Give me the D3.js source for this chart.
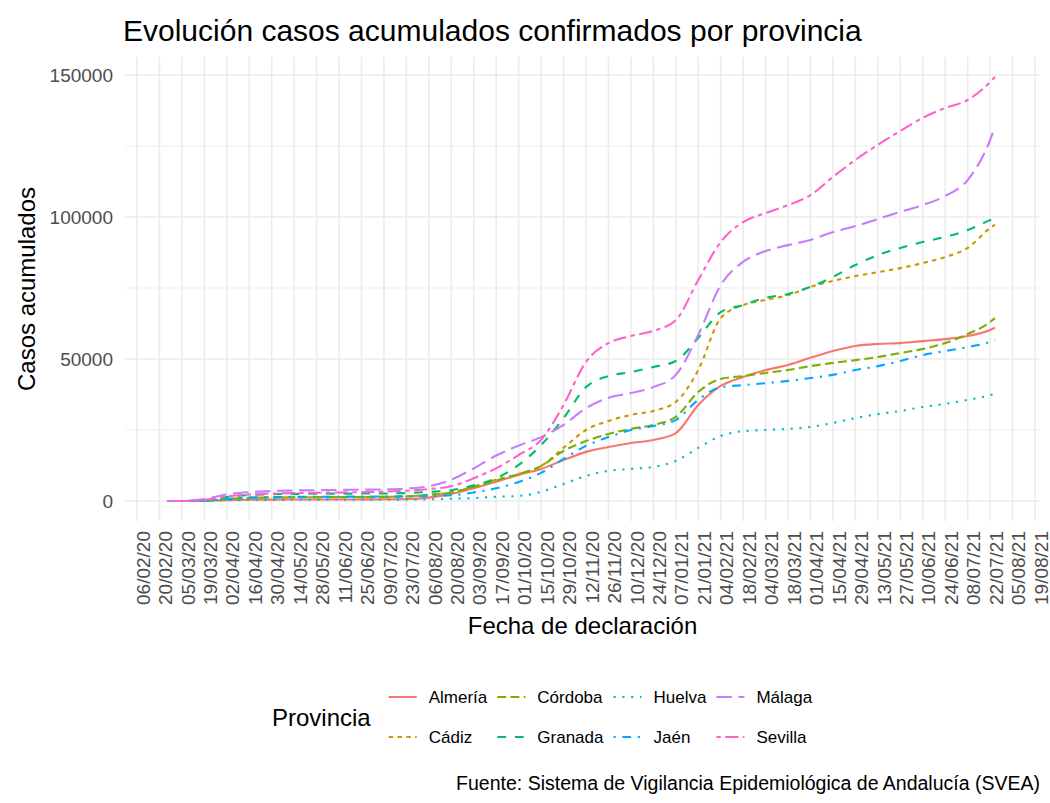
<!DOCTYPE html>
<html>
<head>
<meta charset="utf-8">
<script src="https://cdn.jsdelivr.net/npm/d3@7"></script>
<style>
  body { margin: 0; background: #fff; }
  text { font-family: "Liberation Sans", Arial, sans-serif; }
</style>
</head>
<body>
<div id="chart"></div>
<script>
//---------------------Data

const fechas = ["2020-02-25","2020-03-05","2020-03-19","2020-04-02","2020-04-16","2020-04-30",
  "2020-05-14","2020-05-28","2020-06-11","2020-06-25","2020-07-09","2020-07-23","2020-08-06",
  "2020-08-20","2020-09-03","2020-09-17","2020-10-01","2020-10-15","2020-10-29","2020-11-12",
  "2020-11-26","2020-12-10","2020-12-24","2021-01-07","2021-01-21","2021-02-04","2021-02-18",
  "2021-03-04","2021-03-18","2021-04-01","2021-04-15","2021-04-29","2021-05-13","2021-05-27",
  "2021-06-10","2021-06-24","2021-07-08","2021-07-22","2021-07-25"]

const almeria = [0,0,100,300,450,500,520,530,540,560,600,700,1200,2500,4500,6800,9200,11300,14400,17300,
  19000,20400,21500,23900,33800,40500,43700,46100,47900,50400,52800,54600,55300,55600,56300,57000,58100,60200,61000]
const cadiz = [0,0,150,700,1100,1250,1300,1350,1400,1420,1450,1600,2200,3000,5000,7500,9500,12300,18700,25000,
  28200,30300,31700,34900,46100,64400,69000,70800,72500,75400,77500,79200,80600,82000,83800,85900,89100,96100,97300]
const cordoba = [0,0,100,700,1100,1250,1300,1350,1380,1400,1450,1600,2100,3000,5000,7200,9500,12300,17600,21100,
  23600,25400,26800,29600,38400,43000,44000,45100,46100,47500,48600,49600,50700,52100,53500,55600,58800,63000,64400]
const granada = [0,0,300,1400,2100,2400,2500,2550,2600,2620,2650,2800,3200,3800,5500,8000,12700,19700,29200,40100,
  44000,45400,47200,49300,57400,66500,69000,71500,72900,75400,78900,83100,86600,89100,91200,93000,95400,98900,99600]
const huelva = [0,0,50,250,350,400,420,430,440,450,460,500,600,800,1000,1500,1800,3200,6000,8800,
  10600,11300,12000,14100,18700,22900,24600,25000,25400,26100,27500,29200,30600,31700,33100,34200,35600,37300,37900]
const jaen = [0,0,100,700,1200,1400,1450,1500,1520,1550,1580,1650,1800,2000,3000,4500,6700,9900,14800,19400,
  22500,25000,26400,28500,35600,40100,40800,41500,42300,43300,44400,46100,47500,49300,51400,52800,54200,56000,56600]
const malaga = [0,20,700,2300,3100,3500,3700,3800,3900,4000,4100,4400,5200,7500,11500,16000,19500,22500,26800,32700,
  36300,38000,40100,44400,58500,76000,84200,88000,90100,91900,94700,96800,99300,101800,104200,107400,113000,127100,131700]
const sevilla = [0,10,400,1600,2300,2600,2800,2900,3000,3100,3300,3600,4200,5200,8000,11500,16200,21500,33800,49000,
  55600,58100,59900,63700,77800,91200,98200,101400,104200,107700,114100,120100,125400,130300,134900,138400,141200,147500,149300]

const provincias = ["Almería","Cádiz","Córdoba","Granada","Huelva","Jaén","Málaga","Sevilla"]
const serieValores = [almeria, cadiz, cordoba, granada, huelva, jaen, malaga, sevilla]

const xTickLabels = ["06/02/20","20/02/20","05/03/20","19/03/20","02/04/20","16/04/20","30/04/20",
  "14/05/20","28/05/20","11/06/20","25/06/20","09/07/20","23/07/20","06/08/20","20/08/20","03/09/20",
  "17/09/20","01/10/20","15/10/20","29/10/20","12/11/20","26/11/20","10/12/20","24/12/20","07/01/21",
  "21/01/21","04/02/21","18/02/21","04/03/21","18/03/21","01/04/21","15/04/21","29/04/21","13/05/21",
  "27/05/21","10/06/21","24/06/21","08/07/21","22/07/21","05/08/21","19/08/21"]
const yTicks = [0, 50000, 100000, 150000]
const yMinorTicks = [25000, 75000, 125000]

//----------------------Prepare

const parseDate = d3.utcParse("%Y-%m-%d")
const parseTick = d3.utcParse("%d/%m/%y")

const dataset = provincias.map((p, i) => ({
  provincia: p,
  values: fechas.map((f, j) => ({ fecha: parseDate(f), casos: serieValores[i][j] }))
}))

const xAccessor = d => d.fecha
const yAccessor = d => d.casos

//-----------------------Dimensions

let dimensions = {
  width: 1050,
  height: 803,
  panelLeft: 125,
  panelRight: 1040,
  panelTop: 57,
  panelBottom: 521
}

const svg = d3.select("#chart")
  .append("svg")
  .attr("width", dimensions.width)
  .attr("height", dimensions.height)

svg.append("rect")
  .attr("width", dimensions.width)
  .attr("height", dimensions.height)
  .attr("fill", "#ffffff")

//------------------------Scales

const xScale = d3.scaleUtc()
  .domain([parseTick("06/02/20"), parseTick("19/08/21")])
  .range([137, 1035])

const yScale = d3.scaleLinear()
  .domain([0, 150000])
  .range([501, 75])

const colorScale = d3.scaleOrdinal()
  .domain(provincias)
  .range(["#F8766D","#CD9600","#7CAE00","#00BE67","#00BFC4","#00A9FF","#C77CFF","#FF61CC"])

// ggplot linetypes, in units of line width
const lw = 2.1
const dashScale = d3.scaleOrdinal()
  .domain(provincias)
  .range([null, [2,2], [4,2], [4,4], [1,3], [1,3,4,3], [7,3], [2,2,6,2]])
const dashFor = p => {
  const d = dashScale(p)
  return d ? d.map(v => v * lw * 1.05).join(",") : null
}

//------------------------Grid

const grid = svg.append("g")

grid.selectAll(".ymin")
  .data(yMinorTicks)
  .join("line")
  .attr("x1", dimensions.panelLeft)
  .attr("x2", dimensions.panelRight)
  .attr("y1", d => yScale(d))
  .attr("y2", d => yScale(d))
  .attr("stroke", "#f0f0f0")
  .attr("stroke-width", 1.2)

grid.selectAll(".ymaj")
  .data(yTicks)
  .join("line")
  .attr("x1", dimensions.panelLeft)
  .attr("x2", dimensions.panelRight)
  .attr("y1", d => yScale(d))
  .attr("y2", d => yScale(d))
  .attr("stroke", "#ebebeb")
  .attr("stroke-width", 1.6)

grid.selectAll(".xmaj")
  .data(xTickLabels)
  .join("line")
  .attr("x1", d => xScale(parseTick(d)))
  .attr("x2", d => xScale(parseTick(d)))
  .attr("y1", dimensions.panelTop)
  .attr("y2", dimensions.panelBottom)
  .attr("stroke", "#ebebeb")
  .attr("stroke-width", 1.6)

//------------------------Lines

const lineGenerator = d3.line()
  .x(d => xScale(xAccessor(d)))
  .y(d => yScale(yAccessor(d)))
  .curve(d3.curveMonotoneX)

svg.append("g")
  .selectAll("path")
  .data(dataset)
  .join("path")
  .attr("d", d => lineGenerator(d.values))
  .attr("fill", "none")
  .attr("stroke", d => colorScale(d.provincia))
  .attr("stroke-width", lw)
  .attr("stroke-dasharray", d => dashFor(d.provincia))

//------------------------Axes (theme_minimal: no lines, just labels)

svg.append("g")
  .selectAll("text")
  .data(yTicks)
  .join("text")
  .attr("x", 113)
  .attr("y", d => yScale(d))
  .attr("dy", "0.35em")
  .attr("text-anchor", "end")
  .attr("fill", "#4d4d4d")
  .style("font-size", "19px")
  .text(d => d)

svg.append("g")
  .selectAll("text")
  .data(xTickLabels)
  .join("text")
  .attr("transform", d => `translate(${xScale(parseTick(d)) + 6},531) rotate(-90)`)
  .attr("text-anchor", "end")
  .attr("dy", "0.35em")
  .attr("fill", "#4d4d4d")
  .style("font-size", "19px")
  .text(d => d)

svg.append("text")
  .attr("transform", `translate(35,${(dimensions.panelTop + dimensions.panelBottom) / 2}) rotate(-90)`)
  .attr("text-anchor", "middle")
  .style("font-size", "24px")
  .text("Casos acumulados")

svg.append("text")
  .attr("x", (dimensions.panelLeft + dimensions.panelRight) / 2)
  .attr("y", 634)
  .attr("text-anchor", "middle")
  .style("font-size", "24px")
  .text("Fecha de declaración")

//------------------------Title & caption

svg.append("text")
  .attr("x", 123)
  .attr("y", 41)
  .style("font-size", "30px")
  .text("Evolución casos acumulados confirmados por provincia")

svg.append("text")
  .attr("x", 1040)
  .attr("y", 790)
  .attr("text-anchor", "end")
  .style("font-size", "19.5px")
  .text("Fuente: Sistema de Vigilancia Epidemiológica de Andalucía (SVEA)")

//------------------------Legend (2 rows, filled by column)

const legend = svg.append("g")
  .attr("transform", "translate(272,0)")

const legendTitle = legend.append("text")
  .attr("x", 0)
  .attr("y", 718)
  .attr("dy", "0.35em")
  .style("font-size", "24px")
  .text("Provincia")

const keyW = 30, keyGap = 11, colGap = 9
const rowsY = [697, 737]
let cursor = legendTitle.node().getComputedTextLength() + 17

for (let c = 0; c < 4; c++) {
  const items = provincias.slice(c * 2, c * 2 + 2)
  let maxW = 0
  items.forEach((p, r) => {
    legend.append("line")
      .attr("x1", cursor + 1)
      .attr("x2", cursor + keyW - 1)
      .attr("y1", rowsY[r])
      .attr("y2", rowsY[r])
      .attr("stroke", colorScale(p))
      .attr("stroke-width", lw)
      .attr("stroke-dasharray", dashFor(p))
    const t = legend.append("text")
      .attr("x", cursor + keyW + keyGap)
      .attr("y", rowsY[r])
      .attr("dy", "0.35em")
      .style("font-size", "17px")
      .text(p)
    maxW = Math.max(maxW, t.node().getComputedTextLength())
  })
  cursor += keyW + keyGap + maxW + colGap
}
</script>
</body>
</html>
